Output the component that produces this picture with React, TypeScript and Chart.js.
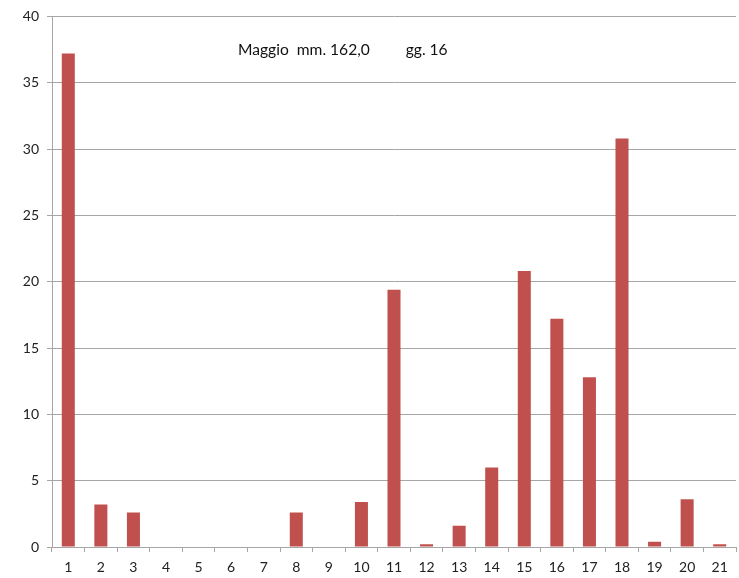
import React, { useEffect, useRef } from "react";
import { Chart, registerables } from "chart.js";

Chart.register(...registerables);

// Daily rainfall (mm) for May, days 1–21
const days: string[] = [
  "1", "2", "3", "4", "5", "6", "7", "8", "9", "10", "11",
  "12", "13", "14", "15", "16", "17", "18", "19", "20", "21",
];
const rainMm: number[] = [
  37.2, 3.2, 2.6, 0, 0, 0, 0, 2.6, 0, 3.4, 19.4,
  0.2, 1.6, 6.0, 20.8, 17.2, 12.8, 30.8, 0.4, 3.6, 0.2,
];
const yTicks: number[] = [0, 5, 10, 15, 20, 25, 30, 35, 40];
const headline = "Maggio  mm. 162,0         gg. 16";

const FONT = "Lato, 'Open Sans', sans-serif";

const headlinePlugin = {
  id: "headline",
  afterDraw(chart: any) {
    const { ctx, chartArea } = chart;
    ctx.save();
    ctx.font = `15.6px ${FONT}`;
    ctx.fillStyle = "#111";
    ctx.textAlign = "left";
    ctx.textBaseline = "middle";
    ctx.fillText(headline, chartArea.left + 186, chartArea.top + 34);
    ctx.restore();
  },
};

export default function App() {
  const ref = useRef<HTMLCanvasElement | null>(null);

  useEffect(() => {
    if (!ref.current) return;
    const chart = new Chart(ref.current, {
      type: "bar",
      data: {
        labels: days,
        datasets: [
          {
            data: rainMm,
            backgroundColor: "#c0504d",
            borderWidth: 0,
            barPercentage: 0.8,
            categoryPercentage: 0.5,
          },
        ],
      },
      options: {
        animation: false,
        responsive: false,
        maintainAspectRatio: false,
        layout: { padding: { top: 16, right: 3, left: 0, bottom: 0 } },
        plugins: {
          legend: { display: false },
          tooltip: { enabled: false },
        },
        scales: {
          x: {
            grid: {
              display: true,
              drawOnChartArea: false,
              drawTicks: true,
              tickLength: 5,
              color: "#a6a6a6",
            },
            border: { color: "#a6a6a6", width: 1 },
            ticks: {
              color: "#222",
              font: { family: FONT, size: 14 },
              padding: 7,
              maxRotation: 0,
              autoSkip: false,
            },
            afterFit(scale: any) {
              scale.height = 31;
            },
          },
          y: {
            min: 0,
            max: 40,
            afterBuildTicks(scale: any) {
              scale.ticks = yTicks.map((v) => ({ value: v }));
            },
            grid: {
              color: "#a6a6a6",
              tickLength: 5,
            },
            border: { color: "#a6a6a6", width: 1 },
            ticks: {
              color: "#222",
              font: { family: FONT, size: 14 },
              padding: 8,
            },
            afterFit(scale: any) {
              scale.width = 52;
            },
          },
        },
      },
      plugins: [headlinePlugin],
    });
    return () => chart.destroy();
  }, []);

  return (
    <div style={{ position: "fixed", left: 0, top: 0, width: 739, height: 578, background: "#fff" }}>
      <canvas ref={ref} width={739} height={578} />
    </div>
  );
}
